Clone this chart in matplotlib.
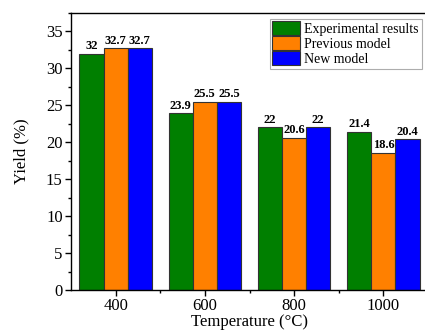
import matplotlib.pyplot as plt
import numpy as np
from matplotlib.ticker import MultipleLocator

temps = ['400', '600', '800', '1000']
experimental = [32, 23.9, 22, 21.4]
previous = [32.7, 25.5, 20.6, 18.6]
new_model = [32.7, 25.5, 22, 20.4]

plt.rcParams['font.family'] = ['Liberation Serif', 'DejaVu Serif']

fig = plt.figure(figsize=(4.25, 3.31), dpi=100)
ax = fig.add_axes([71/425, 41/331, 357/425, 277/331])

x = np.arange(len(temps))
w = 0.27
series = [(experimental, '#007F00', 'Experimental results'),
          (previous, '#FF8000', 'Previous model'),
          (new_model, '#0000FF', 'New model')]
for i, (vals, c, lab) in enumerate(series):
    bars = ax.bar(x + (i - 1) * w, vals, w, color=c, edgecolor='#333333',
                  linewidth=0.8, label=lab)
    for b, v in zip(bars, vals):
        ax.text(b.get_x() + b.get_width() / 2, v + 0.2, f'{v:g}',
                ha='center', va='bottom', fontsize=9, fontweight='bold')

ax.set_xlim(-0.5, 3.5)
ax.set_ylim(0, 37.5)
ax.set_xticks(x)
ax.set_xticklabels(temps)
ax.set_xticks(x[:-1] + 0.5, minor=True)
ax.yaxis.set_major_locator(MultipleLocator(5))
ax.yaxis.set_minor_locator(MultipleLocator(2.5))
ax.tick_params(axis='both', which='major', direction='out', length=4, width=1,
               labelsize=12, top=False, right=False, pad=2)
ax.tick_params(axis='both', which='minor', direction='out', length=2.5, width=1,
               top=False, right=False)
for s in ax.spines.values():
    s.set_linewidth(1)
ax.spines['right'].set_visible(False)  # cut off in the original

ax.set_xlabel('Temperature (°C)', fontsize=12, labelpad=0)
ax.set_ylabel('Yield (%)', fontsize=12, labelpad=12)

leg = ax.legend(loc='upper right', bbox_to_anchor=(0.99, 0.99), fontsize=10,
                frameon=True, fancybox=False, edgecolor='#999999',
                handlelength=2.0, handleheight=1.1, handletextpad=0.3,
                borderpad=0.2, labelspacing=0.05, borderaxespad=0.2)
leg.get_frame().set_linewidth(0.8)

fig.savefig('out.png', dpi=100)
